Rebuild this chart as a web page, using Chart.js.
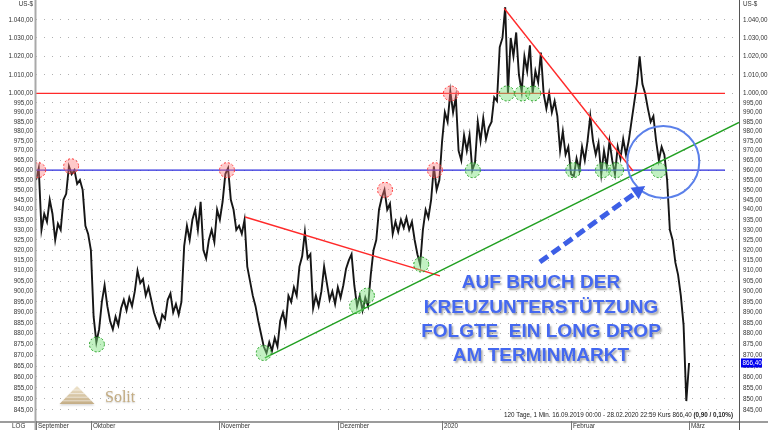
<!DOCTYPE html>
<html><head><meta charset="utf-8">
<script src="https://cdn.jsdelivr.net/npm/chart.js@4/dist/chart.umd.min.js"></script>
<style>html,body{margin:0;padding:0;background:#fff}#wrap{width:768px;height:430px;position:relative}</style>
</head><body><div id="wrap"><canvas id="c" width="768" height="430"></canvas></div>
<script>
// price trace, one value every half trading day (16.09.2019 .. 28.02.2020)
const prices = [
955,961,930,938,934,945,938,925,933,930,945,948,962,958,960,953,955,950,932,928,
920,888,876,882,895,903,893,886,882,888,884,892,896,891,897,893,900,910,904,906,
898,902,896,890,886,883,889,887,896,899,890,894,889,895,922,932,925,935,940,930,
944,920,916,925,930,924,940,935,944,958,961,945,940,930,932,928,935,912,905,898,
893,886,880,874,871,876,872,878,874,886,890,884,898,895,902,898,912,917,929,916,
918,892,898,893,900,912,904,896,900,894,902,897,903,911,915,918,903,893,898,891,
897,893,908,920,925,940,946,950,940,943,928,934,929,935,931,936,930,934,925,918,
913,930,940,936,945,962,950,955,975,990,985,1001,990,998,970,965,978,970,978,960,
964,985,975,987,976,982,985,998,996,1025,1030,1047,1000,1030,1020,1033,1010,1001,1020,1012,
1026,1000,1012,1006,1022,1000,992,1000,990,996,988,970,980,968,972,958,957,966,960,972,
965,975,988,975,968,974,958,970,962,975,965,958,972,966,976,968,975,985,995,1005,
1020,1005,1000,992,985,988,975,965,972,968,955,930,925,914,908,898,884,849,866.4
];
const dayStep = 0.5;
const monthLabels = ['September','Oktober','November','Dezember','2020','Februar','März'];
const monthStarts = [0, 10.0, 33.3, 55.0, 73.9, 97.4, 119.0];
const yTicks = [1040,1030,1020,1010,1000,995,990,985,980,975,970,965,960,955,950,945,940,935,930,925,920,915,910,905,900,895,890,885,880,875,870,865,860,855,850,845];
const lastPrice = 866.40;
const levelValues = [1000, 960];
const redTrend1 = [[38.1, 936.4], [73.6, 907.5]];
const redTrend2 = [[85.3, 1046.4], [108.8, 959.6]];
const greenTrend = [[41.7, 868.7], [128.1, 984.7]];
const redMarkDays = [0.4, 6.4, 34.8, 63.6, 72.7, 75.6];
const redMarkValues = [960, 962, 960, 950, 960, 1000];
const greenMarkDays = [11.1, 41.5, 58.5, 60.3, 70.2, 79.6, 85.8, 88.6, 90.6, 97.9, 103.3, 105.7, 113.5];
const greenMarkValues = [875, 871, 893, 898, 913, 960, 1000, 1000, 1000, 960, 960, 960, 960];
const breakCircle = [114.3, 964.2];
const arrowFrom = [91.8, 914.2];
const arrowTo = [111.0, 952.0];
const noteLines = ['AUF BRUCH DER', 'KREUZUNTERSTÜTZUNG', 'FOLGTE  EIN LONG DROP', 'AM TERMINMARKT'];
const infoText = '120 Tage, 1 Min. 16.09.2019 00:00 - 28.02.2020 22:59 Kurs 866,40 ';
const infoBold = '(0,90 / 0,10%)';

function fmtDE(v){
  const fixed = v.toFixed(2).split('.');
  let int = fixed[0];
  if (int.length > 3) int = int.slice(0, int.length-3) + '.' + int.slice(-3);
  return int + ',' + fixed[1];
}
const SMALL = '"Liberation Sans", Arial, sans-serif';

const overlay = {
  id:'overlay',
  afterDatasetsDraw(chart){
    const ctx = chart.ctx, xs = chart.scales.x, ys = chart.scales.y, ca = chart.chartArea;
    const px = d => xs.getPixelForValue(d), py = v => ys.getPixelForValue(v);
    ctx.save();
    ctx.beginPath(); ctx.rect(ca.left, ca.top, ca.right-ca.left, ca.bottom-ca.top); ctx.clip();
    const levelColors = ['#ff2a2a', '#2b2bdd'];
    levelValues.forEach((v,i)=>{
      ctx.strokeStyle = levelColors[i]; ctx.lineWidth = 1.3;
      ctx.beginPath(); ctx.moveTo(px(0), py(v)); ctx.lineTo(725, py(v)); ctx.stroke();
    });
    const seg = (p, col) => { ctx.strokeStyle = col; ctx.lineWidth = 1.4; ctx.beginPath();
      ctx.moveTo(px(p[0][0]), py(p[0][1])); ctx.lineTo(px(p[1][0]), py(p[1][1])); ctx.stroke(); };
    seg(redTrend1, '#ff2a2a'); seg(redTrend2, '#ff2a2a'); seg(greenTrend, '#22a022');
    const mark = (d, v, fill, stroke) => {
      ctx.beginPath(); ctx.arc(px(d), py(v), 7.5, 0, Math.PI*2);
      ctx.fillStyle = fill; ctx.fill();
      ctx.setLineDash([2,2]); ctx.strokeStyle = stroke; ctx.lineWidth = 1; ctx.stroke(); ctx.setLineDash([]);
    };
    redMarkDays.forEach((d,i)=>mark(d, redMarkValues[i], 'rgba(255,120,120,0.40)', '#ff3030'));
    greenMarkDays.forEach((d,i)=>mark(d, greenMarkValues[i], 'rgba(120,225,120,0.45)', '#1f9e1f'));
    ctx.beginPath(); ctx.arc(px(breakCircle[0]), py(breakCircle[1]), 36, 0, Math.PI*2);
    ctx.strokeStyle = '#5b80ea'; ctx.lineWidth = 2; ctx.stroke();
    const ax0 = px(arrowFrom[0]), ay0 = py(arrowFrom[1]), ax1 = px(arrowTo[0]), ay1 = py(arrowTo[1]);
    const ang = Math.atan2(ay1-ay0, ax1-ax0), head = 13;
    ctx.strokeStyle = '#3d5fe6'; ctx.fillStyle = '#3d5fe6'; ctx.lineWidth = 5;
    ctx.setLineDash([10,5]);
    ctx.beginPath(); ctx.moveTo(ax0, ay0);
    ctx.lineTo(ax1 - Math.cos(ang)*head*0.8, ay1 - Math.sin(ang)*head*0.8); ctx.stroke();
    ctx.setLineDash([]);
    ctx.beginPath(); ctx.moveTo(ax1, ay1);
    ctx.lineTo(ax1 - head*Math.cos(ang) + 7*Math.sin(ang), ay1 - head*Math.sin(ang) - 7*Math.cos(ang));
    ctx.lineTo(ax1 - head*Math.cos(ang) - 7*Math.sin(ang), ay1 - head*Math.sin(ang) + 7*Math.cos(ang));
    ctx.closePath(); ctx.fill();
    ctx.restore();

    ctx.save();
    ctx.font = 'bold 19px "Liberation Sans", Arial, sans-serif';
    ctx.textAlign = 'center'; ctx.textBaseline = 'middle';
    const ys0 = [283, 308, 332, 356];
    noteLines.forEach((t,i)=>{
      ctx.shadowColor = 'rgba(0,0,0,0.35)'; ctx.shadowOffsetX = 1.5; ctx.shadowOffsetY = 2; ctx.shadowBlur = 2;
      ctx.fillStyle = '#4468f0'; ctx.fillText(t, 541, ys0[i]);
    });
    ctx.restore();
  },
  afterDraw(chart){
    const ctx = chart.ctx, xs = chart.scales.x, ca = chart.chartArea;
    ctx.save();
    ctx.fillStyle = '#a9a9a9'; ctx.fillRect(ca.left-1.5, 0, 2, 430);
    ctx.fillStyle = '#9c9c9c'; ctx.fillRect(0, ca.bottom, 768, 2);
    ctx.fillStyle = '#555'; ctx.fillRect(ca.right, 0, 1, 430);
    ctx.font = '6.3px ' + SMALL; ctx.fillStyle = '#333'; ctx.textBaseline = 'middle'; ctx.textAlign = 'left';
    monthStarts.forEach((d,i)=>{
      const x = Math.round(xs.getPixelForValue(d));
      ctx.fillStyle = '#777'; ctx.fillRect(x, ca.bottom, 1, 430-ca.bottom);
      ctx.fillStyle = '#333'; ctx.fillText(monthLabels[i], x+2, 426.5);
    });
    ctx.fillText('LOG', 12, 426.5);
    ctx.textAlign = 'right'; ctx.fillText('US-$', 33, 4);
    ctx.textAlign = 'left'; ctx.fillText('US-$', 743, 4);
    const yl = chart.scales.y.getPixelForValue(lastPrice);
    ctx.fillStyle = '#0000f0'; ctx.fillRect(741, yl-4.5, 21, 9);
    ctx.fillStyle = '#fff'; ctx.fillText(fmtDE(lastPrice), 742.5, yl);
    ctx.font = '6.3px ' + SMALL;
    const w1 = ctx.measureText(infoText).width;
    ctx.font = 'bold 6.3px ' + SMALL;
    const w2 = ctx.measureText(infoBold).width;
    const x0 = 733 - w1 - w2;
    ctx.fillStyle = '#222'; ctx.font = '6.3px ' + SMALL; ctx.fillText(infoText, x0, 415);
    ctx.font = 'bold 6.3px ' + SMALL; ctx.fillText(infoBold, x0 + w1, 415);
    const g = ctx.createLinearGradient(0, 386, 0, 404);
    g.addColorStop(0, '#efe4cc'); g.addColorStop(1, '#c4ad85');
    ctx.shadowColor = 'rgba(0,0,0,0.15)'; ctx.shadowOffsetY = 1.5; ctx.shadowBlur = 2;
    ctx.fillStyle = g;
    ctx.beginPath(); ctx.moveTo(77, 386); ctx.lineTo(94.5, 404); ctx.lineTo(59.5, 404); ctx.closePath(); ctx.fill();
    ctx.shadowColor = 'transparent';
    ctx.strokeStyle = 'rgba(255,255,255,0.7)'; ctx.lineWidth = 0.8;
    [390, 393.6, 397.2, 400.8].forEach(yy=>{ const hw = (yy-386)*17.5/18; ctx.beginPath(); ctx.moveTo(77-hw, yy); ctx.lineTo(77+hw, yy); ctx.stroke(); });
    ctx.font = '16px "Liberation Serif", "Times New Roman", serif';
    ctx.fillStyle = '#c3ac82'; ctx.textBaseline = 'alphabetic'; ctx.textAlign = 'left';
    ctx.shadowColor = 'rgba(0,0,0,0.2)'; ctx.shadowOffsetY = 1; ctx.shadowBlur = 1.5;
    ctx.fillText('Solit', 105, 402);
    ctx.restore();
  }
};

const yCommon = {
  type:'logarithmic', min:840.05, max:1051,
  afterBuildTicks: s => { s.ticks = yTicks.map(v=>({value:v})); },
  ticks:{ autoSkip:false, callback: v => fmtDE(v), font:{size:6.3, family:'"Liberation Sans", Arial, sans-serif'}, color:'#333' }
};

new Chart(document.getElementById('c').getContext('2d'), {
  type:'line',
  data:{ datasets:[{ data: prices.map((p,i)=>({x:i*dayStep, y:p})), borderColor:'#161616', borderWidth:1.9, pointRadius:0, tension:0 }] },
  options:{
    responsive:false, animation:false,
    layout:{ padding:{ top:0, bottom:9, left:0, right:0 } },
    plugins:{ legend:{display:false}, tooltip:{enabled:false} },
    scales:{
      x:{ type:'linear', display:false, min:0, max:128.1 },
      y:Object.assign({}, yCommon, { position:'left', afterFit: s => { s.width = 36; s.paddingTop = 0; s.paddingBottom = 0; },
        ticks:Object.assign({}, yCommon.ticks, {padding:3}),
        grid:{ color:'#b0b0b0', drawTicks:false, lineWidth:1 }, border:{ display:false, dash:[1,7] } }),
      y2:Object.assign({}, yCommon, { position:'right', afterFit: s => { s.width = 29; s.paddingTop = 0; s.paddingBottom = 0; },
        ticks:Object.assign({}, yCommon.ticks, {padding:4}),
        grid:{ drawOnChartArea:false, drawTicks:false }, border:{ display:false } })
    }
  },
  plugins:[overlay]
});
</script>
</body></html>
